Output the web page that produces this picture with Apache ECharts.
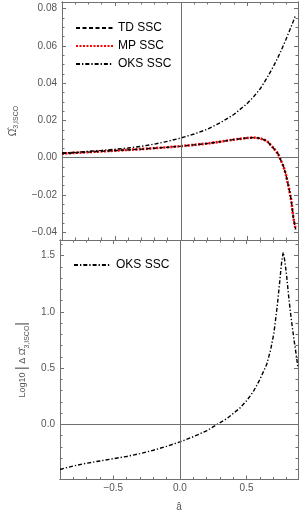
<!DOCTYPE html>
<html>
<head>
<meta charset="utf-8">
<script src="https://cdn.jsdelivr.net/npm/echarts@6/dist/echarts.min.js"></script>
<style>
html,body{margin:0;padding:0;background:#fff;}
#c{width:300px;height:531px;}
</style>
</head>
<body>
<div id="c"></div>
<script>
// ---- data ----
const aTop = [-0.9,-0.8,-0.7,-0.6,-0.5,-0.4,-0.3,-0.2,-0.1,0,0.1,0.2,0.3,0.4,0.5,0.55,0.6,0.65,0.7,0.735,0.755,0.775,0.793,0.818,0.835,0.85,0.868];
const tdSSC = [0.0022,0.0026,0.0030,0.0034,0.0038,0.0042,0.0046,0.0051,0.0056,0.0062,0.0069,0.0076,0.0086,0.0097,0.0106,0.0108,0.0104,0.0090,0.0052,0.0021,-0.0012,-0.0045,-0.0086,-0.0166,-0.0229,-0.0318,-0.0385];
const mpSSC = [0.0022,0.0026,0.0030,0.0034,0.0038,0.0042,0.0046,0.0051,0.0056,0.0062,0.0069,0.0076,0.0086,0.0097,0.0106,0.0108,0.0104,0.0090,0.0052,0.0021,-0.0012,-0.0045,-0.0086,-0.0166,-0.0229,-0.0318,-0.0385];
const oksSSC = [0.0025,0.0029,0.0034,0.0039,0.0045,0.0052,0.0061,0.0073,0.0088,0.0106,0.0127,0.0153,0.0188,0.0232,0.0290,0.0327,0.0370,0.0427,0.0490,0.0540,0.0570,0.0602,0.0632,0.0675,0.0705,0.0732,0.0766];
const aBot = [-0.9,-0.8,-0.7,-0.6,-0.5,-0.4,-0.3,-0.2,-0.1,0,0.1,0.2,0.28,0.35,0.45,0.5,0.55,0.6,0.65,0.68,0.705,0.73,0.748,0.763,0.775,0.785,0.80,0.815,0.83,0.845,0.86,0.875,0.886];
const oksLog = [-0.40,-0.37,-0.345,-0.325,-0.305,-0.285,-0.26,-0.23,-0.195,-0.155,-0.11,-0.057,0.0,0.05,0.145,0.21,0.29,0.40,0.53,0.66,0.81,1.05,1.26,1.44,1.53,1.47,1.33,1.15,0.99,0.85,0.72,0.60,0.50];

const xMajor = [-0.5,0,0.5];
const xMinor = [-0.8,-0.7,-0.6,-0.4,-0.3,-0.2,-0.1,0.1,0.2,0.3,0.4,0.6,0.7,0.8];
const yTopMajor = [-0.04,-0.02,0,0.02,0.04,0.06,0.08];
const yTopMinor = [-0.035,-0.03,-0.025,-0.015,-0.01,-0.005,0.005,0.01,0.015,0.025,0.03,0.035,0.045,0.05,0.055,0.065,0.07,0.075];
const yBotMajor = [0,0.5,1.0,1.5];
const yBotMinor = [-0.4,-0.3,-0.2,-0.1,0.1,0.2,0.3,0.4,0.6,0.7,0.8,0.9,1.1,1.2,1.3,1.4,1.6];

const legendTop = ['TD SSC','MP SSC','OKS SSC'];
const legendBot = ['OKS SSC'];

// ---- layout / style ----
const FRAME = '#707070';
const LABEL = '#555555';
const FONT = "'Liberation Sans', Arial, sans-serif";
const X_RANGE = [-0.9, 0.886];
const YT_RANGE = [-0.0442, 0.0836];
const YB_RANGE = [-0.49, 1.64];

function fmt(dec) {
  return v => Number(v).toFixed(dec).replace('-', '\u2212');
}

function axis(gridIndex, position, range, ticks, len, labels, dec, extra) {
  const a = {
    type: 'value', gridIndex: gridIndex, position: position,
    min: range[0], max: range[1],
    axisLine: {show: true, onZero: false, lineStyle: {color: FRAME, width: 1}},
    axisTick: {show: true, inside: true, length: len, customValues: ticks, lineStyle: {color: FRAME, width: 1}},
    axisLabel: labels ? {show: true, customValues: ticks, formatter: fmt(dec), color: LABEL, fontSize: 10, fontFamily: FONT, margin: 5} : {show: false},
    splitLine: {show: false},
    minorTick: {show: false}
  };
  return Object.assign(a, extra || {});
}

const xAxes = [
  axis(0,'bottom',X_RANGE,xMajor,4,false,1),
  axis(0,'bottom',X_RANGE,xMinor,2.5,false,1),
  axis(0,'top',X_RANGE,xMajor,4,false,1),
  axis(0,'top',X_RANGE,xMinor,2.5,false,1),
  axis(1,'bottom',X_RANGE,xMajor,4,true,1,{
    name: 'â', nameLocation: 'middle', nameGap: 23,
    nameTextStyle: {color: LABEL, fontSize: 10, fontFamily: FONT}
  }),
  axis(1,'bottom',X_RANGE,xMinor,2.5,false,1),
  axis(1,'top',X_RANGE,xMajor,4,false,1),
  axis(1,'top',X_RANGE,xMinor,2.5,false,1)
];
xAxes[4].axisLabel.margin = 4;

const yAxes = [
  axis(0,'left',YT_RANGE,yTopMajor,4,true,2,{
    name: '{a|\u03A9\u0302}{s|3,ISCO}', nameLocation: 'middle', nameRotate: 90, nameGap: 42,
    nameTextStyle: {color: LABEL, fontFamily: FONT, rich: {
      a: {fontSize: 10, color: LABEL, fontFamily: FONT, lineHeight: 14},
      s: {fontSize: 7, color: LABEL, fontFamily: FONT, lineHeight: 14, verticalAlign: 'bottom', padding: [4,0,0,0]}
    }}
  }),
  axis(0,'left',YT_RANGE,yTopMinor,2.5,false,2),
  axis(0,'right',YT_RANGE,yTopMajor,4,false,2),
  axis(0,'right',YT_RANGE,yTopMinor,2.5,false,2),
  axis(1,'left',YB_RANGE,yBotMajor,4,true,1,{
    name: '{n|Log10 }{b||}{n| \u0394 \u03A9\u0302}{s|3,ISCO}{b||}', nameLocation: 'middle', nameRotate: 90, nameGap: 24,
    nameTextStyle: {color: LABEL, fontFamily: FONT, rich: {
      n: {fontSize: 9, color: LABEL, fontFamily: FONT, lineHeight: 16},
      b: {fontSize: 14, color: LABEL, fontFamily: FONT, lineHeight: 16},
      s: {fontSize: 7, color: LABEL, fontFamily: FONT, lineHeight: 16, verticalAlign: 'bottom', padding: [4,0,0,0]}
    }}
  }),
  axis(1,'left',YB_RANGE,yBotMinor,2.5,false,1),
  axis(1,'right',YB_RANGE,yBotMajor,4,false,1),
  axis(1,'right',YB_RANGE,yBotMinor,2.5,false,1)
];

function pairs(xs, ys) { return xs.map((x, i) => [x, ys[i]]); }

const zeroLines = {
  silent: true, symbol: 'none', animation: false,
  label: {show: false},
  lineStyle: {color: FRAME, type: 'solid', width: 1},
  data: [{yAxis: 0}, {xAxis: 0}]
};

const legendCommon = {
  orient: 'vertical', padding: 0, itemWidth: 37, itemHeight: 14,
  selectedMode: false,
  itemStyle: {color: 'rgba(0,0,0,0)', borderWidth: 0, opacity: 0},
  textStyle: {fontSize: 12, color: '#000', fontFamily: FONT}
};

const option = {
  animation: false,
  backgroundColor: '#ffffff',
  grid: [
    {left: 60, right: 2, top: 2, height: 238},
    {left: 60, right: 2, top: 240, height: 239.5}
  ],
  xAxis: xAxes,
  yAxis: yAxes,
  legend: [
    Object.assign({}, legendCommon, {data: legendTop, left: 75, top: 22, itemGap: 6}),
    Object.assign({}, legendCommon, {data: legendBot, left: 73, top: 259, itemGap: 5})
  ],
  series: [
    {name: 'TD SSC', type: 'line', xAxisIndex: 0, yAxisIndex: 0, data: pairs(aTop, tdSSC),
     showSymbol: false, symbol: 'none', z: 4,
     lineStyle: {color: '#000', width: 1.4, type: [4, 2.5]}, itemStyle: {color: '#000'},
     markLine: zeroLines},
    {name: 'MP SSC', type: 'line', xAxisIndex: 0, yAxisIndex: 0, data: pairs(aTop, mpSSC),
     showSymbol: false, symbol: 'none', z: 3,
     lineStyle: {color: '#ff0000', width: 2.6, type: [2, 1.5]}, itemStyle: {color: '#ff0000'}},
    {name: 'OKS SSC', type: 'line', xAxisIndex: 0, yAxisIndex: 0, data: pairs(aTop, oksSSC),
     showSymbol: false, symbol: 'none', z: 4,
     lineStyle: {color: '#000', width: 1.4, type: [4, 2, 1.3, 2]}, itemStyle: {color: '#000'}},
    {name: 'OKS SSC', type: 'line', xAxisIndex: 4, yAxisIndex: 4, data: pairs(aBot, oksLog),
     showSymbol: false, symbol: 'none', z: 4,
     lineStyle: {color: '#000', width: 1.4, type: [4, 2, 1.3, 2]}, itemStyle: {color: '#000'},
     markLine: zeroLines}
  ]
};

const chart = echarts.init(document.getElementById('c'), null, {renderer: 'canvas'});
chart.setOption(option);
</script>
</body>
</html>
